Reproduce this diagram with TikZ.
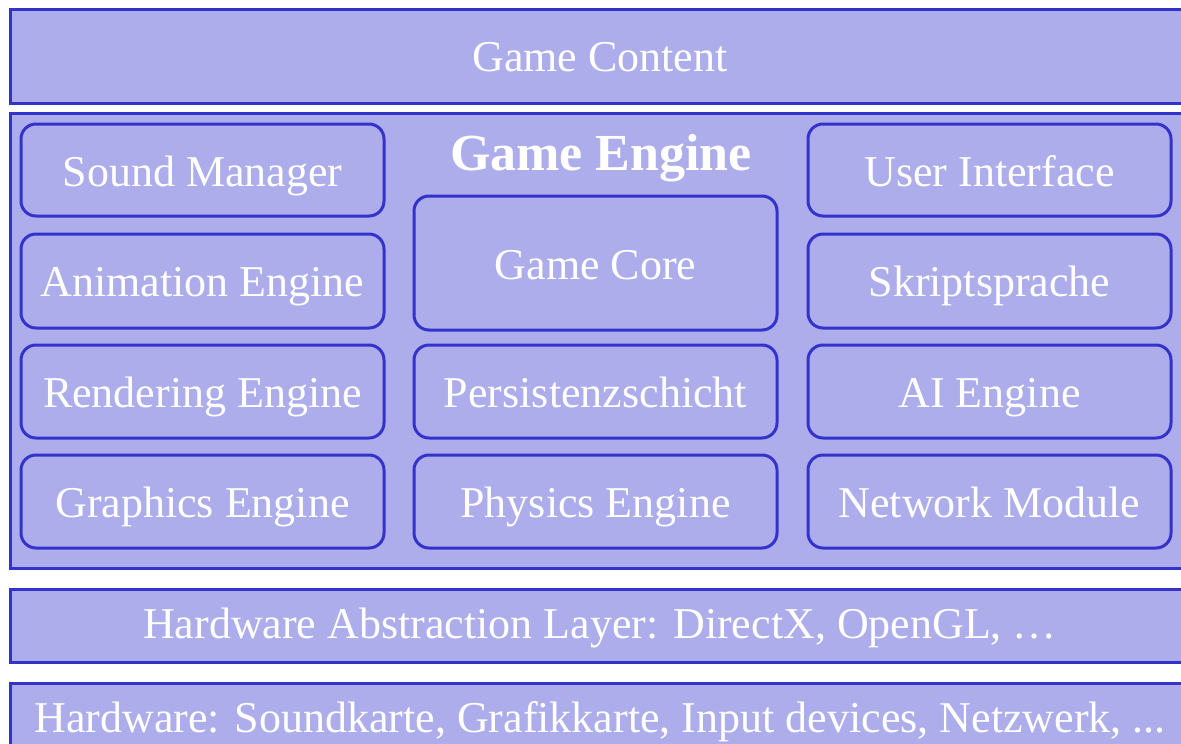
\documentclass[tikz,border=0pt]{standalone}
\usepackage{fontspec}
\setmainfont{Liberation Serif}
\definecolor{boxfill}{RGB}{173,173,235}
\definecolor{boxline}{RGB}{51,51,204}
\begin{document}
\begin{tikzpicture}[x=1pt,y=-1pt,
  layer/.style={draw=boxline,fill=boxfill,line width=3pt,rectangle,inner sep=0pt,text=white,
     text height=31pt,text depth=0pt,font=\fontsize{44}{50}\selectfont},
  module/.style={draw=boxline,fill=boxfill,line width=3pt,rectangle,rounded corners=15pt,inner sep=0pt,
     minimum width=363pt,text=white,text height=31pt,text depth=0pt,font=\fontsize{44}{50}\selectfont}]
\useasboundingbox (0,0) rectangle (1181,744);
\clip (0,0) rectangle (1181,744);
\fill[white] (0,0) rectangle (1181,744);
\node[layer,minimum width=1180pt,minimum height=94pt] (content) at (600,56) {Game Content};
\node[layer,minimum width=1180pt,minimum height=455pt] (engine) at (600,340.5) {};
\node[layer,minimum width=1180pt,minimum height=73pt,text height=25pt] (hal) at (600,625.5) {Hardware Abstraction Layer: DirectX, OpenGL, …};
\node[layer,minimum width=1180pt,minimum height=67pt] (hw) at (600,716.5) {Hardware: Soundkarte, Grafikkarte, Input devices, Netzwerk, ...};
\node[text=white,font=\fontsize{52}{58}\selectfont\bfseries,inner sep=0pt,anchor=base] (title) at (601,170) {Game Engine};
\node[module,minimum height=92pt,text height=33pt] (sound) at (202.5,170) {Sound Manager};
\node[module,minimum height=94pt] (anim) at (202.5,281) {Animation Engine};
\node[module,minimum height=93pt] (render) at (202.5,391.5) {Rendering Engine};
\node[module,minimum height=93pt] (graphics) at (202.5,501.5) {Graphics Engine};
\node[module,minimum height=134pt,text height=32pt] (core) at (595.5,263) {Game Core};
\node[module,minimum height=93pt] (persist) at (595.5,391.5) {Persistenzschicht};
\node[module,minimum height=93pt] (physics) at (595.5,501.5) {Physics Engine};
\node[module,minimum height=92pt,text height=32pt] (ui) at (989.5,170) {User Interface};
\node[module,minimum height=94pt] (script) at (989.5,281) {Skriptsprache};
\node[module,minimum height=93pt] (ai) at (989.5,391.5) {AI Engine};
\node[module,minimum height=93pt] (network) at (989.5,501.5) {Network Module};
\end{tikzpicture}
\end{document}
